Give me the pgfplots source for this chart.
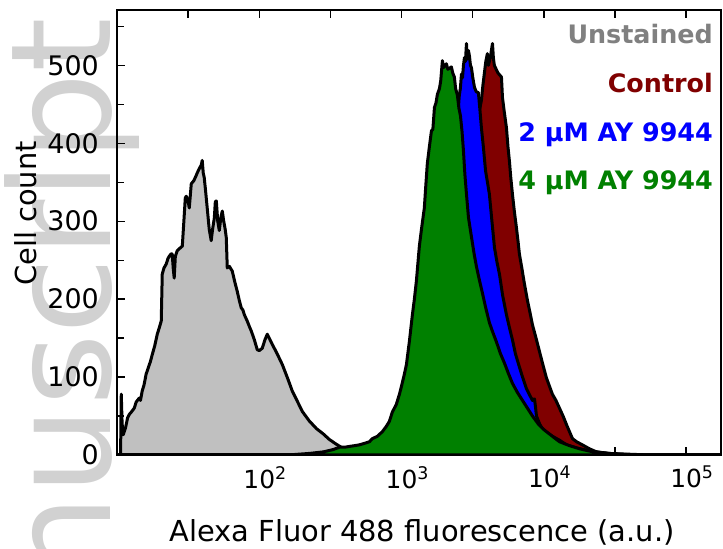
\documentclass[border=0pt]{standalone}
\usepackage{fontspec}
\setmainfont{DejaVu Sans}
\usepackage{pgfplots}
\pgfplotsset{compat=1.18}

\definecolor{unst}{HTML}{C0C0C0}
\definecolor{unsttxt}{HTML}{808080}
\definecolor{ctrl}{HTML}{800000}
\definecolor{ayblue}{HTML}{0000FF}
\definecolor{aygreen}{HTML}{008000}

% histogram counts against log10 of the fluorescence
\pgfplotstableread{
lx count
1.000 0
1.025 0
1.030 78
1.036 40
1.044 26
1.060 35
1.075 48
1.086 52
1.100 55
1.121 60
1.135 68
1.156 73
1.165 70
1.177 82
1.190 90
1.205 104
1.220 112
1.235 120
1.248 129
1.265 140
1.283 155
1.300 165
1.311 172
1.318 232
1.330 240
1.346 245
1.358 252
1.367 255
1.380 258
1.388 258
1.395 240
1.402 227
1.410 255
1.423 262
1.440 265
1.459 268
1.470 300
1.480 330
1.487 332
1.500 325
1.508 317
1.522 348
1.540 352
1.555 358
1.564 362
1.580 368
1.592 372
1.599 378
1.606 362
1.613 356
1.622 340
1.634 317
1.648 290
1.662 275
1.672 290
1.684 304
1.691 325
1.698 326
1.708 300
1.719 288
1.730 305
1.740 313
1.750 300
1.760 290
1.768 279
1.775 240
1.790 242
1.810 236
1.828 222
1.845 210
1.860 198
1.873 189
1.885 186
1.895 180
1.915 172
1.930 165
1.944 159
1.965 148
1.986 135
2.000 134
2.021 137
2.040 148
2.056 155
2.070 150
2.091 142
2.120 132
2.162 116
2.200 98
2.232 82
2.270 68
2.302 56
2.350 44
2.401 34
2.450 27
2.492 20
2.540 14
2.584 9
2.630 7
2.682 5
2.730 3
2.774 2
2.880 1
3.000 0
5.245 0
}\unstained

\pgfplotstableread{
lx count
1.000 0
2.400 0
2.703 3
2.850 7
2.985 15
3.100 30
3.196 50
3.270 90
3.336 150
3.390 220
3.442 300
3.480 355
3.512 400
3.540 435
3.561 455
3.572 475
3.582 490
3.592 505
3.603 515
3.610 500
3.617 505
3.625 512
3.632 520
3.639 528
3.645 510
3.652 500
3.660 497
3.667 494
3.678 490
3.688 488
3.702 485
3.709 459
3.722 440
3.737 420
3.748 395
3.758 377
3.768 355
3.779 335
3.793 312
3.807 292
3.818 275
3.828 258
3.845 240
3.865 218
3.885 198
3.900 185
3.920 167
3.945 150
3.969 133
3.990 118
4.018 99
4.040 88
4.060 78
4.085 70
4.110 60
4.135 50
4.159 39
4.180 30
4.201 21
4.230 17
4.271 13
4.320 8
4.370 4
4.461 2
4.600 1
4.743 0
5.245 0
}\control

\pgfplotstableread{
lx count
1.000 0
2.300 0
2.450 3
2.633 5
2.750 9
2.844 15
2.920 24
2.985 35
3.060 55
3.125 80
3.160 110
3.196 150
3.230 195
3.266 250
3.300 305
3.336 360
3.365 400
3.392 440
3.400 447
3.406 462
3.413 470
3.421 489
3.428 484
3.435 500
3.442 510
3.449 505
3.456 528
3.462 508
3.470 519
3.477 512
3.484 500
3.491 497
3.500 485
3.512 472
3.525 466
3.540 465
3.552 440
3.561 420
3.575 395
3.590 365
3.617 335
3.635 300
3.653 266
3.670 248
3.688 232
3.710 205
3.737 180
3.760 162
3.779 148
3.800 130
3.828 113
3.850 100
3.878 85
3.900 77
3.920 70
3.934 72
3.941 62
3.948 50
3.970 40
3.990 33
4.020 29
4.060 24
4.110 19
4.159 13
4.230 9
4.300 6
4.370 4
4.450 2
4.600 0
5.245 0
}\twouM

\pgfplotstableread{
lx count
1.000 0
2.200 0
2.350 2
2.450 4
2.520 7
2.563 10
2.600 10
2.633 11
2.670 12
2.703 13
2.740 15
2.774 17
2.795 21
2.830 24
2.865 30
2.890 36
2.914 43
2.935 55
2.963 65
2.985 78
2.999 88
3.020 104
3.034 116
3.055 146
3.076 180
3.090 200
3.104 223
3.125 268
3.140 290
3.160 317
3.170 345
3.181 374
3.195 395
3.210 416
3.220 418
3.231 446
3.242 452
3.252 463
3.266 470
3.275 480
3.287 506
3.295 497
3.305 500
3.315 502
3.325 495
3.335 496
3.350 498
3.360 490
3.371 485
3.380 470
3.392 462
3.403 445
3.414 435
3.425 415
3.435 390
3.445 360
3.456 335
3.470 305
3.491 280
3.510 258
3.526 242
3.545 226
3.568 208
3.590 190
3.617 170
3.640 158
3.667 145
3.695 130
3.723 118
3.750 105
3.779 92
3.815 80
3.850 70
3.885 60
3.920 50
3.960 40
4.004 32
4.060 24
4.110 17
4.180 12
4.250 8
4.320 5
4.391 3
4.460 2
4.532 1
4.672 0
5.245 0
}\fouruM

\begin{document}
\begin{tikzpicture}
\useasboundingbox (0,0) rectangle (723bp,549bp);

% faint manuscript watermark behind the chart
\node[rotate=90, anchor=base east, inner sep=0pt, text=black!18,
      font=\fontsize{140}{140}\selectfont] at (110bp,531bp) {Manuscript};

\begin{axis}[
  at={(117bp,94bp)}, anchor=south west,
  scale only axis, width=604bp, height=445bp,
  xmin=1, xmax=5.245, ymin=0, ymax=571,
  axis line style={line width=2bp},
  tick align=inside,
  major tick length=8bp, minor tick length=7bp,
  tick style={black, line width=1.3bp},
  xtick={1.5,2,2.5,3,3.5,4,4.5,5},
  xticklabels={,10\rlap{\textsuperscript{2}},,10\rlap{\textsuperscript{3}},,10\rlap{\textsuperscript{4}},,10\rlap{\textsuperscript{5}}},
  xtick pos=both, xticklabel pos=lower,
  ytick={0,100,...,500},
  minor ytick={50,150,...,550},
  ytick pos=left,
  /pgf/number format/assume math mode=true,
  xticklabel style={font=\fontsize{25}{25}\selectfont, anchor=north, inner sep=0pt},
  xticklabel shift=11bp,
  yticklabel style={font=\fontsize{27}{27}\selectfont, anchor=east, inner sep=0pt},
  yticklabel shift=18bp,
  xlabel={Alexa Fluor 488 fluorescence (a.u.)},
  xlabel style={font=\fontsize{29}{29}\selectfont, anchor=base,
                at={(axis description cs:0.505,-0.1955)}},
  ylabel={Cell count},
  ylabel style={font=\fontsize{29}{29}\selectfont, anchor=base,
                at={(axis description cs:-0.134,0.5427)}},
]
\addplot[fill=unst, draw=black, line width=3bp, line join=round]
  table[x=lx, y=count] {\unstained} \closedcycle;
\addplot[fill=ctrl, draw=black, line width=3bp, line join=round]
  table[x=lx, y=count] {\control} \closedcycle;
\addplot[fill=ayblue, draw=black, line width=3bp, line join=round]
  table[x=lx, y=count] {\twouM} \closedcycle;
\addplot[fill=aygreen, draw=black, line width=3bp, line join=round]
  table[x=lx, y=count] {\fouruM} \closedcycle;

\begin{scope}[every node/.style={anchor=base east, inner sep=0pt,
                font=\fontsize{25.5}{25.5}\selectfont\bfseries}]
  \node[text=unsttxt] at (rel axis cs:0.9868,0.9258) {Unstained};
  \node[text=ctrl]    at (rel axis cs:0.9868,0.8135) {Control};
  \node[text=ayblue]  at (rel axis cs:0.9868,0.7034) {2 μM AY 9944};
  \node[text=aygreen] at (rel axis cs:0.9868,0.5955) {4 μM AY 9944};
\end{scope}
\end{axis}
\end{tikzpicture}
\end{document}
